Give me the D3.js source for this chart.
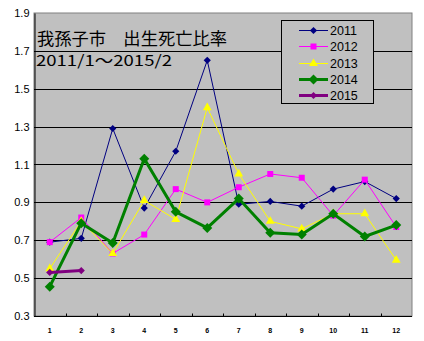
<!DOCTYPE html>
<meta charset="utf-8">
<style>
    body {
        margin: 0;
        background-color: #ffffff;
    }

    text {
        font-family: Arial, "Liberation Sans", sans-serif;
    }
</style>

<body>
    <script src="https://d3js.org/d3.v7.min.js"></script>
    <script>
        var width = 424,
            height = 341;

        // data
        const months = ["1", "2", "3", "4", "5", "6", "7", "8", "9", "10", "11", "12"]
        const yTicks = [0.3, 0.5, 0.7, 0.9, 1.1, 1.3, 1.5, 1.7, 1.9]

        const y2011 = [0.69, 0.71, 1.29, 0.87, 1.17, 1.65, 0.89, 0.905, 0.88, 0.97, 1.01, 0.92]
        const y2012 = [0.69, 0.82, 0.63, 0.73, 0.97, 0.90, 0.98, 1.05, 1.03, 0.83, 1.02, 0.77]
        const y2013 = [0.55, 0.80, 0.63, 0.91, 0.81, 1.40, 1.05, 0.80, 0.76, 0.84, 0.84, 0.595]
        const y2014 = [0.455, 0.79, 0.685, 1.13, 0.85, 0.765, 0.92, 0.74, 0.73, 0.84, 0.72, 0.78]
        const y2015 = [0.53, 0.54]

        const seriesNames = ["2011", "2012", "2013", "2014", "2015"]

        const series = [
            { name: "2011", values: y2011, color: "#000080", lw: 1, shape: "diamond", size: 26 },
            { name: "2012", values: y2012, color: "#ff00ff", lw: 1, shape: "square", size: 36 },
            { name: "2013", values: y2013, color: "#ffff00", lw: 1, shape: "triangle", size: 34 },
            { name: "2014", values: y2014, color: "#008000", lw: 3, shape: "diamond", size: 50 },
            { name: "2015", values: y2015, color: "#800080", lw: 3, shape: "diamond", size: 26 }
        ]

        var plot = { left: 34, right: 412, top: 13, bottom: 316 }

        var svg = d3.select("body").append("svg")
            .attr("width", width)
            .attr("height", height)

        var x = d3.scaleBand()
            .domain(months)
            .range([plot.left, plot.right])
            .padding(0)

        var y = d3.scaleLinear()
            .domain([0.3, 1.9])
            .range([plot.bottom, plot.top])

        // plot area
        svg.append("rect")
            .attr("x", plot.left)
            .attr("y", plot.top)
            .attr("width", plot.right - plot.left)
            .attr("height", plot.bottom - plot.top)
            .attr("fill", "#c0c0c0")
            .attr("stroke", "#808080")
            .attr("stroke-width", 1)

        // gridlines
        svg.append("g").selectAll("line")
            .data(yTicks.slice(1, -1))
            .enter().append("line")
            .attr("x1", plot.left)
            .attr("x2", plot.right)
            .attr("y1", d => Math.round(y(d)) + 0.5)
            .attr("y2", d => Math.round(y(d)) + 0.5)
            .attr("stroke", "#000")
            .attr("stroke-width", 1)

        // y axis
        var yAxis = svg.append("g")
            .attr("transform", "translate(" + (plot.left + 0.5) + ",0)")
            .call(d3.axisLeft(y).tickValues(yTicks).tickSize(0).tickPadding(5).tickFormat(d3.format(".1f")))
        yAxis.select(".domain").attr("stroke", "#000")
        yAxis.selectAll("text")
            .attr("font-size", "11px")
            .attr("fill", "#000")

        // x axis, ticks at category boundaries pointing inward
        var xAxisG = svg.append("g")
            .attr("transform", "translate(0," + (plot.bottom + 0.5) + ")")
        xAxisG.append("line")
            .attr("x1", plot.left)
            .attr("x2", plot.right)
            .attr("stroke", "#000")
        xAxisG.selectAll(".tk")
            .data(months.slice(1))
            .enter().append("line")
            .attr("class", "tk")
            .attr("x1", d => Math.round(x(d)) + 0.5)
            .attr("x2", d => Math.round(x(d)) + 0.5)
            .attr("y1", 0)
            .attr("y2", -3)
            .attr("stroke", "#000")
        xAxisG.selectAll("text")
            .data(months)
            .enter().append("text")
            .attr("x", d => x(d) + x.bandwidth() / 2)
            .attr("y", 16)
            .attr("text-anchor", "middle")
            .attr("font-size", "7px")
            .attr("font-weight", "bold")
            .attr("fill", "#000")
            .text(d => d)

        var symbols = {
            diamond: d3.symbolSquare,
            square: d3.symbolSquare,
            triangle: d3.symbolTriangle
        }

        var line = d3.line()
            .x((d, i) => x(months[i]) + x.bandwidth() / 2)
            .y(d => y(d))

        series.forEach(function (s) {
            var g = svg.append("g")
            g.append("path")
                .datum(s.values)
                .attr("d", line)
                .attr("fill", "none")
                .attr("stroke", s.color)
                .attr("stroke-width", s.lw)
            g.selectAll("path.mk")
                .data(s.values)
                .enter().append("path")
                .attr("class", "mk")
                .attr("d", d3.symbol().type(symbols[s.shape]).size(s.size))
                .attr("transform", (d, i) => "translate(" + (x(months[i]) + x.bandwidth() / 2) + "," + y(d) + ")" + (s.shape == "diamond" ? " rotate(45)" : ""))
                .attr("fill", s.color)
        })

        // title
        svg.append("text")
            .attr("x", 37)
            .attr("y", 45)
            .attr("font-family", "'Noto Sans CJK JP', sans-serif")
            .attr("font-size", "17px")
            .attr("textLength", 190)
            .attr("lengthAdjust", "spacingAndGlyphs")
            .attr("fill", "#000")
            .style("font-family", "'Noto Sans CJK JP', sans-serif")
            .text("我孫子市　出生死亡比率")

        svg.append("text")
            .attr("x", 36)
            .attr("y", 66)
            .attr("font-size", "15px")
            .attr("textLength", 136)
            .attr("lengthAdjust", "spacingAndGlyphs")
            .attr("fill", "#000")
            .style("font-family", "'Noto Sans CJK JP', sans-serif")
            .text("2011/1～2015/2")

        // legend
        var legend = svg.append("g")
        legend.append("rect")
            .attr("x", 281.5)
            .attr("y", 20.5)
            .attr("width", 92)
            .attr("height", 83)
            .attr("fill", "#c0c0c0")
            .attr("stroke", "#000")

        var ly = d3.scalePoint()
            .domain(seriesNames)
            .range([30, 95])

        series.forEach(function (s) {
            var yy = Math.round(ly(s.name)) + 0.5
            legend.append("line")
                .attr("x1", 299)
                .attr("x2", 328)
                .attr("y1", yy)
                .attr("y2", yy)
                .attr("stroke", s.color)
                .attr("stroke-width", s.lw)
            legend.append("path")
                .attr("d", d3.symbol().type(symbols[s.shape]).size(s.size))
                .attr("transform", "translate(313.5," + yy + ")" + (s.shape == "diamond" ? " rotate(45)" : ""))
                .attr("fill", s.color)
            legend.append("text")
                .attr("x", 330)
                .attr("y", yy + 4.5)
                .attr("font-size", "12.5px")
                .attr("fill", "#000")
                .text(s.name)
        })
    </script>
</body>

</html>
